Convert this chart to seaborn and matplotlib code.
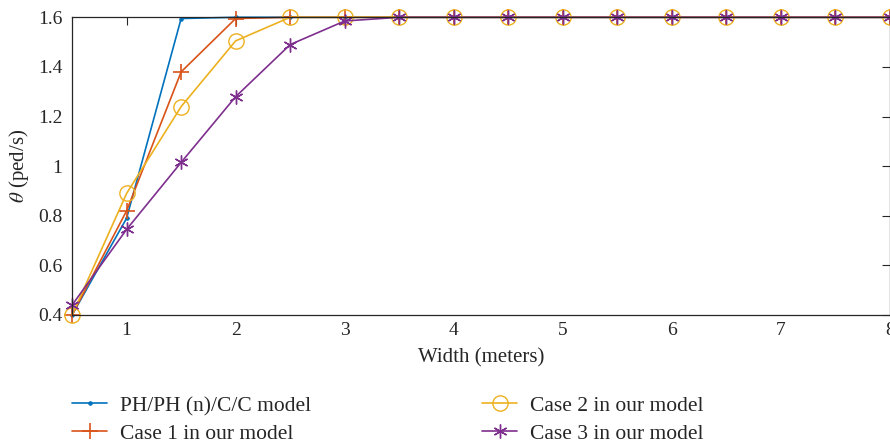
import matplotlib
matplotlib.use("Agg")
import matplotlib.pyplot as plt
import seaborn as sns
import pandas as pd

widths = [0.5, 1, 1.5, 2, 2.5, 3, 3.5, 4, 4.5, 5, 5.5, 6, 6.5, 7, 7.5, 8]
ph_model = [0.40, 0.79, 1.595, 1.60, 1.60, 1.60, 1.60, 1.60, 1.60, 1.60, 1.60, 1.60, 1.60, 1.60, 1.60, 1.60]
case1 = [0.40, 0.82, 1.38, 1.595, 1.60, 1.60, 1.60, 1.60, 1.60, 1.60, 1.60, 1.60, 1.60, 1.60, 1.60, 1.60]
case2 = [0.40, 0.89, 1.24, 1.505, 1.60, 1.60, 1.60, 1.60, 1.60, 1.60, 1.60, 1.60, 1.60, 1.60, 1.60, 1.60]
case3 = [0.44, 0.745, 1.015, 1.28, 1.49, 1.585, 1.60, 1.60, 1.60, 1.60, 1.60, 1.60, 1.60, 1.60, 1.60, 1.60]

labels = ["PH/PH (n)/C/C model", "Case 1 in our model", "Case 2 in our model", "Case 3 in our model"]
colors = ["#0072BD", "#D95319", "#EDB120", "#7E2F8E"]

sns.set_style("white")
plt.rcParams["font.family"] = ["Liberation Serif", "DejaVu Serif"]
plt.rcParams["mathtext.fontset"] = "stix"

fig = plt.figure(figsize=(8.9, 4.43), dpi=100)
ax = fig.add_axes([0.081, 0.289, 0.919, 0.672])

series = [ph_model, case1, case2, case3]
styles = [
    dict(marker="o", markersize=2.5, markerfacecolor=None),
    dict(marker="+", markersize=11, markeredgewidth=1.2),
    dict(marker="o", markersize=11, markerfacecolor="none", markeredgewidth=1.0),
    dict(marker=(6, 2, 0), markersize=10, markeredgewidth=1.0),
]
for vals, lab, col, st in zip(series, labels, colors, styles):
    df = pd.DataFrame({"w": widths, "v": vals})
    kw = dict(st)
    if kw.get("markerfacecolor", 1) is None:
        kw["markerfacecolor"] = col
    kw.setdefault("markeredgecolor", col)
    sns.lineplot(data=df, x="w", y="v", ax=ax, color=col, label=lab,
                 linewidth=1.2, clip_on=False, **kw)

ax.set_xlim(0.5, 8)
ax.set_ylim(0.4, 1.6)
ax.set_xticks([1, 2, 3, 4, 5, 6, 7, 8])
ax.set_yticks([0.4, 0.6, 0.8, 1.0, 1.2, 1.4, 1.6])
ax.set_yticklabels(["0.4", "0.6", "0.8", "1", "1.2", "1.4", "1.6"])
ax.tick_params(direction="in", top=True, right=True, length=6, width=0.8,
               labelsize=14, colors="#262626")
ax.tick_params(axis="y", pad=7)
ax.tick_params(axis="x", pad=5)
for s in ax.spines.values():
    s.set_color("#262626")
    s.set_linewidth(0.9)
ax.set_xlabel("Width (meters)", fontsize=15, color="#262626", labelpad=7)
ax.set_ylabel(r"$\theta$ (ped/s)", fontsize=15, color="#262626", labelpad=5)

ax.legend(loc="upper left", bbox_to_anchor=(0.0, -0.272), ncol=2, frameon=False,
          fontsize=15.5, handlelength=1.63, columnspacing=7.95, labelspacing=0.35,
          handletextpad=0.6, borderpad=0, borderaxespad=0)

fig.savefig("out.png", dpi=100)
